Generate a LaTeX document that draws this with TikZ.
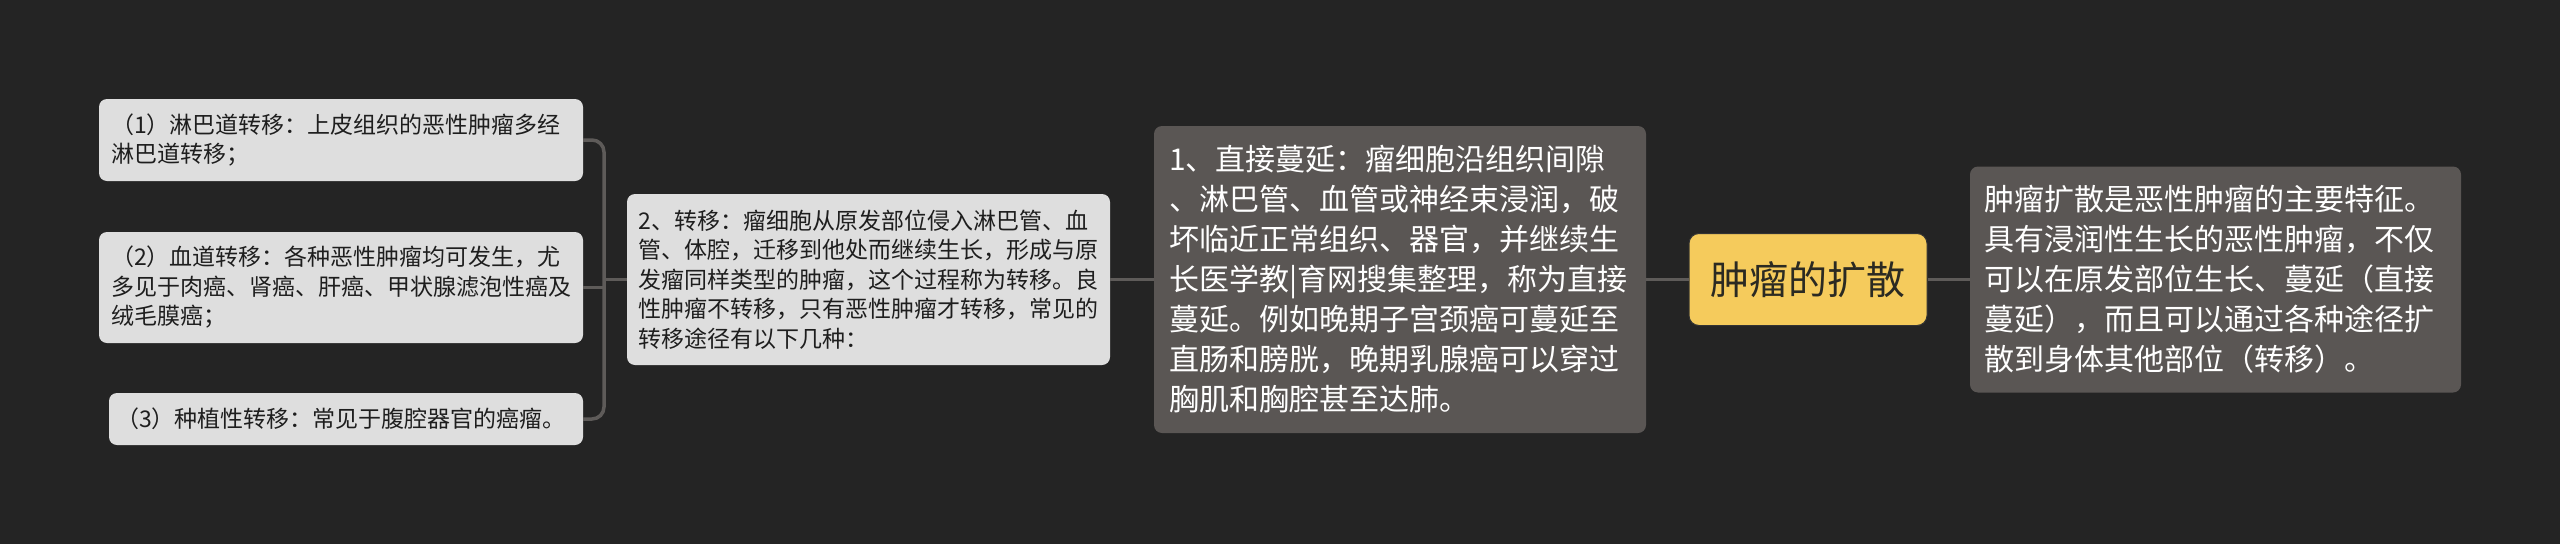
\documentclass[tikz,border=0pt]{standalone}
\usepackage{fontspec}
\setmainfont{Noto Sans CJK SC}
\definecolor{bg}{HTML}{242424}
\definecolor{lightbox}{HTML}{DEDEDE}
\definecolor{lighttext}{HTML}{1E1E1E}
\definecolor{darkbox}{HTML}{5A5654}
\definecolor{centralfill}{HTML}{F5CB5C}
\definecolor{centraltext}{HTML}{2B2A22}
\definecolor{linkc}{HTML}{5E5B59}
\begin{document}
\begin{tikzpicture}[x=1pt,y=-1pt,
  light/.style={rounded corners=8pt, fill=lightbox, text=lighttext, align=left,
    inner sep=0pt, font=\fontsize{23}{29.5}\selectfont},
  dark/.style={rounded corners=8pt, fill=darkbox, text=white, align=left,
    inner sep=0pt, font=\fontsize{30}{40}\selectfont},
  central/.style={rounded corners=10pt, fill=centralfill, draw=black!80, line width=1pt,
    text=centraltext, inner sep=0pt, font=\fontsize{39}{46}\selectfont},
  link/.style={draw=linkc, line width=3.5pt}]
\fill[bg] (0,0) rectangle (2560,544);
\useasboundingbox (0,0) rectangle (2560,544);

% connectors first
\coordinate (bx) at (604,279.5);

\node[light, minimum width=484pt, minimum height=82pt, text width=460pt] (l1) at (341,140)
  {（1）淋巴道转移：上皮组织的恶性肿瘤多经\\淋巴道转移；};
\node[light, minimum width=484pt, minimum height=111pt, text width=460pt] (l2) at (341,287.5)
  {（2）血道转移：各种恶性肿瘤均可发生，尤\\多见于肉癌、肾癌、肝癌、甲状腺滤泡性癌及\\绒毛膜癌；};
\node[light, minimum width=474pt, minimum height=52pt, text width=460pt] (l3) at (346,419)
  {（3）种植性转移：常见于腹腔器官的癌瘤。};
\node[light, minimum width=483pt, minimum height=171pt, text width=460pt] (m2) at (868.5,279.5)
  {2、转移：瘤细胞从原发部位侵入淋巴管、血\\管、体腔，迁移到他处而继续生长，形成与原\\发瘤同样类型的肿瘤，这个过程称为转移。良\\性肿瘤不转移，只有恶性肿瘤才转移，常见的\\转移途径有以下几种：};
\node[dark, minimum width=492pt, minimum height=307pt, text width=462pt] (m1) at (1400,279.5)
  {1、直接蔓延：瘤细胞沿组织间隙\\、淋巴管、血管或神经束浸润，破\\坏临近正常组织、器官，并继续生\\长医学教|育网搜集整理，称为直接\\蔓延。例如晚期子宫颈癌可蔓延至\\直肠和膀胱，晚期乳腺癌可以穿过\\胸肌和胸腔甚至达肺。};
\node[central, minimum width=238pt, minimum height=92pt] (c) at (1808,279.5) {肿瘤的扩散};
\node[dark, minimum width=491pt, minimum height=226pt, text width=462pt] (r) at (2215.5,279.5)
  {肿瘤扩散是恶性肿瘤的主要特征。\\具有浸润性生长的恶性肿瘤，不仅\\可以在原发部位生长、蔓延（直接\\蔓延），而且可以通过各种途径扩\\散到身体其他部位（转移）。};

\draw[link] (c.west) -- (m1.east);
\draw[link] (c.east) -- (r.west);
\draw[link] (m1.west) -- (m2.east);
\draw[link] (m2.west) -- (bx);
\draw[link, rounded corners=12pt] (l1.east) -- (l1.east -| bx) -- (l3.east -| bx) -- (l3.east);
\draw[link] (l2.east) -- (l2.east -| bx);
\end{tikzpicture}
\end{document}
